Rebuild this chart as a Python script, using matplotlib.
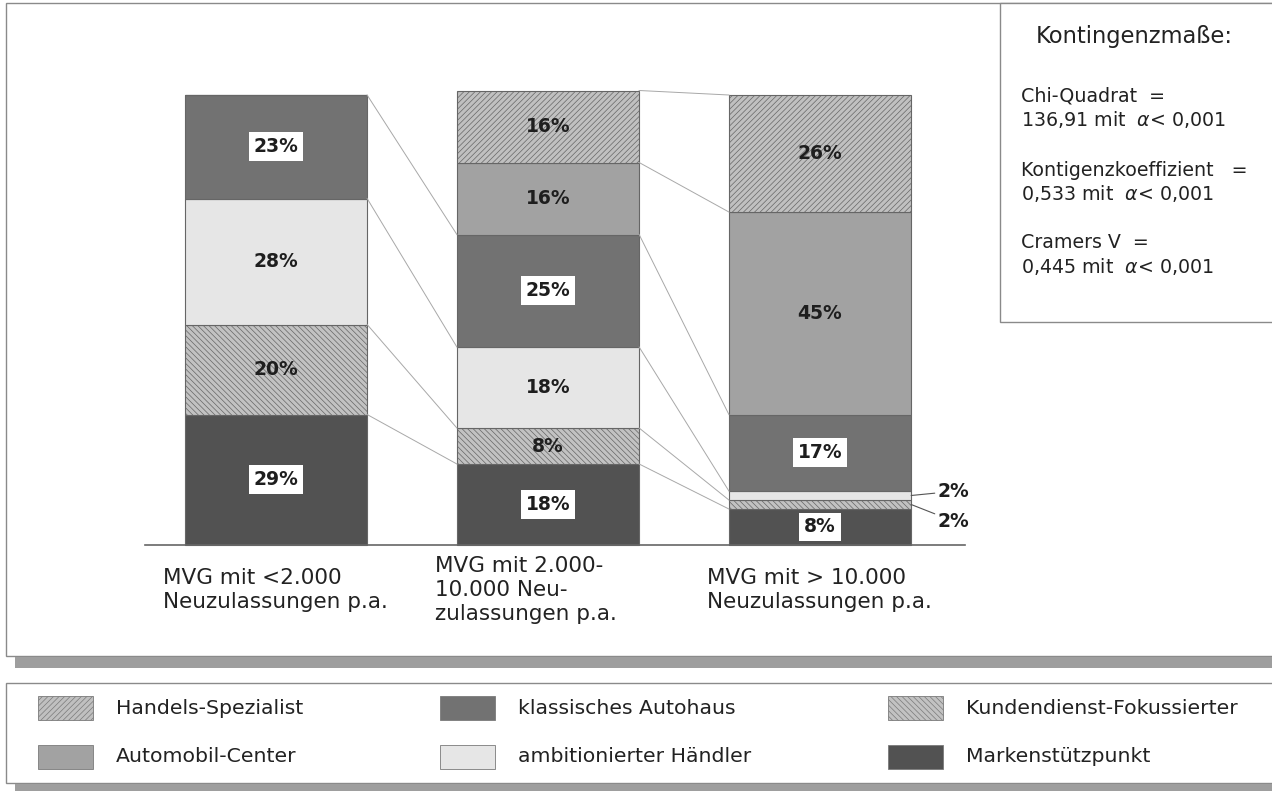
import numpy as np
import matplotlib.pyplot as plt
from matplotlib.patches import Rectangle

plt.rcParams['font.family'] = ['DejaVu Sans']
plt.rcParams['hatch.linewidth'] = 0.5

# Anteile je Händlertyp (in %), Reihenfolge der Balken:
groups = ['MVG mit <2.000\nNeuzulassungen p.a.',
          'MVG mit 2.000-\n10.000 Neu-\nzulassungen p.a.',
          'MVG mit > 10.000\nNeuzulassungen p.a.']
markenstuetzpunkt = [29, 18, 8]
kundendienst = [20, 8, 2]
ambitioniert = [28, 18, 2]
klassisch = [23, 25, 17]
automobil = [0, 16, 45]
handels = [0, 16, 26]

# gestapelt von unten nach oben
stack = [
    ('Markenstützpunkt', markenstuetzpunkt, '#525252', None, True),
    ('Kundendienst-Fokussierter', kundendienst, '#c2c2c2', '\\\\\\\\\\\\', False),
    ('ambitionierter Händler', ambitioniert, '#e6e6e6', None, False),
    ('klassisches Autohaus', klassisch, '#727272', None, True),
    ('Automobil-Center', automobil, '#a2a2a2', None, False),
    ('Handels-Spezialist', handels, '#c0c0c0', '//////', False),
]
legend_order = ['Handels-Spezialist', 'klassisches Autohaus', 'Kundendienst-Fokussierter',
                'Automobil-Center', 'ambitionierter Händler', 'Markenstützpunkt']

W, H = 1272, 791
fig = plt.figure(figsize=(W / 100, H / 100), dpi=100)


def box(x0, y0, x1, y1, **kw):
    # Rechteck in Pixeln (oben links = 0,0)
    fig.patches.append(Rectangle((x0 / W, 1 - y1 / H), (x1 - x0) / W, (y1 - y0) / H,
                                 transform=fig.transFigure, zorder=-1, **kw))


# Rahmen + Schatten
box(6, 3, 1290, 656, facecolor='white', edgecolor='#8a8a8a', lw=1)
box(15, 657, 1290, 668, facecolor='#9e9e9e', edgecolor='none')
box(1000, 3, 1290, 322, facecolor='white', edgecolor='#8a8a8a', lw=1)
box(6, 683, 1290, 783, facecolor='white', edgecolor='#8a8a8a', lw=1)
box(15, 784, 1290, 795, facecolor='#9e9e9e', edgecolor='none')

ax = fig.add_axes([145 / W, 1 - 545 / H, 820 / W, 450 / H])
ax.set_facecolor('none')
x = np.arange(len(groups))
w = 0.67
bottom = np.zeros(len(groups))
tops = {}
for name, vals, col, hatch, boxed in stack:
    vals = np.array(vals, dtype=float)
    ax.bar(x, vals, w, bottom=bottom, color=col, hatch=hatch,
           edgecolor='#666666', linewidth=0.8, clip_on=False)
    for i, v in enumerate(vals):
        if v == 0:
            continue
        yc = bottom[i] + v / 2
        if v >= 5:
            kw = dict(ha='center', va='center', fontsize=13.5, fontweight='bold', color='#1e1e1e')
            if boxed:
                kw['bbox'] = dict(facecolor='white', edgecolor='none', pad=3.5)
            ax.text(x[i], yc, f'{int(v)}%', **kw)
    tops[name] = (bottom + vals, vals)
    bottom = bottom + vals

# kleine Anteile außerhalb beschriften
for name, dy in [('ambitionierter Händler', 3), ('Kundendienst-Fokussierter', -12)]:
    top, vals = tops[name]
    yc = top[2] - vals[2] / 2
    ax.annotate(f'{int(vals[2])}%', xy=(x[2] + w / 2, yc), xytext=(19, dy),
                textcoords='offset points', ha='left', va='center',
                fontsize=13.5, fontweight='bold', color='#1e1e1e',
                arrowprops=dict(arrowstyle='-', color='#555555', lw=0.8,
                                shrinkA=0, shrinkB=0))

# Verbindungslinien zwischen den Balken
for name, vals, col, hatch, boxed in stack:
    top, v = tops[name]
    for i in range(len(groups) - 1):
        if v[i] == 0:
            continue
        ax.plot([x[i] + w / 2, x[i + 1] - w / 2], [top[i], top[i + 1]],
                color='#a8a8a8', lw=0.7, clip_on=False)

for i, g in enumerate(groups):
    ax.text(x[i] - 0.415, -10, g, ha='left', va='center', fontsize=15.5,
            color='#222222', linespacing=1.22)

ax.set_xlim(-0.4816, 2.533)
ax.set_ylim(0, 100)
ax.set_xticks([])
ax.set_yticks([])
for s in ['top', 'left', 'right']:
    ax.spines[s].set_visible(False)
ax.spines['bottom'].set_color('#666666')
ax.spines['bottom'].set_linewidth(1.2)

# Kontingenzmaße
fig.text(1134 / W, 1 - 37 / H, 'Kontingenzmaße:', ha='center', va='center',
         fontsize=16.3, color='#222222')
stats = ['Chi-Quadrat  =', '136,91 mit  $\\alpha$< 0,001',
         'Kontigenzkoeffizient   =', '0,533 mit  $\\alpha$< 0,001',
         'Cramers V  =', '0,445 mit  $\\alpha$< 0,001']
ys = [96, 119, 170, 193, 243, 266]
for t, yy in zip(stats, ys):
    fig.text(1021 / W, 1 - yy / H, t, ha='left', va='center', fontsize=13.7, color='#222222')

# Legende
colors = {n: (c, h) for n, _, c, h, _ in stack}
px = [38, 440, 888]
py = [708, 757]
for k, name in enumerate(legend_order):
    cx, ry = px[k % 3], py[k // 3]
    c, h = colors[name]
    fig.patches.append(Rectangle((cx / W, 1 - (ry + 12) / H), 55 / W, 24 / H,
                                 transform=fig.transFigure, facecolor=c, hatch=h,
                                 edgecolor='#7a7a7a', lw=0.6))
    fig.text((cx + 78) / W, 1 - ry / H, name, ha='left', va='center',
             fontsize=14.7, color='#222222')

fig.savefig('out.png', dpi=100)
